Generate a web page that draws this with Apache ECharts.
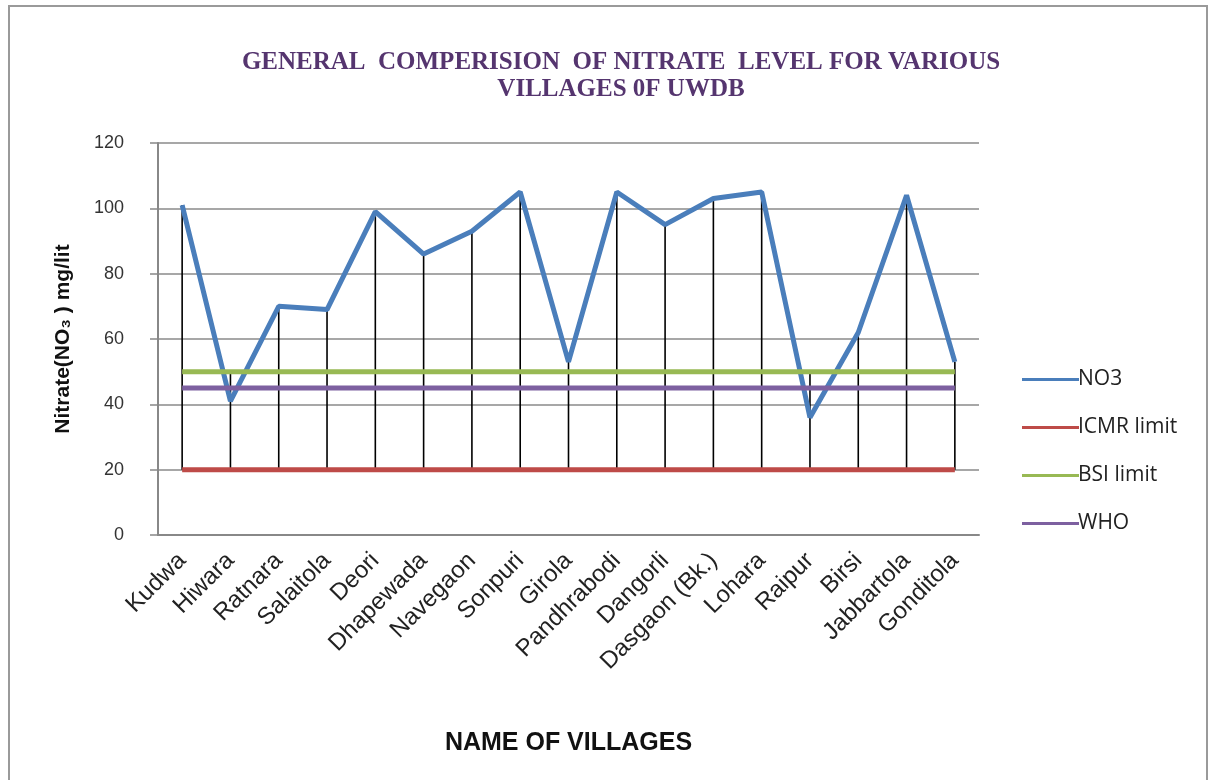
<!DOCTYPE html>
<html>
<head>
<meta charset="utf-8">
<script src="https://cdn.jsdelivr.net/npm/echarts@6/dist/echarts.min.js"></script>
<style>
html, body { margin: 0; padding: 0; background: #fff; }
#chart { width: 1212px; height: 780px; }
</style>
</head>
<body>
<div id="chart"></div>
<script>
// villages on the x axis
var villages = ['Kudwa', 'Hiwara', 'Ratnara', 'Salaitola', 'Deori', 'Dhapewada', 'Navegaon', 'Sonpuri',
    'Girola', 'Pandhrabodi', 'Dangorli', 'Dasgaon (Bk.)', 'Lohara', 'Raipur', 'Birsi', 'Jabbartola', 'Gonditola'];
// nitrate readings, mg/lit
var no3 = [101, 41, 70, 69, 99, 86, 93, 105, 53, 105, 95, 103, 105, 36, 62, 104, 53];
// limits
var icmr = [20, 20, 20, 20, 20, 20, 20, 20, 20, 20, 20, 20, 20, 20, 20, 20, 20];
var bsi = [50, 50, 50, 50, 50, 50, 50, 50, 50, 50, 50, 50, 50, 50, 50, 50, 50];
var who = [45, 45, 45, 45, 45, 45, 45, 45, 45, 45, 45, 45, 45, 45, 45, 45, 45];
var yTicks = [0, 20, 40, 60, 80, 100, 120];

// high-low lines like excel: from highest to lowest value in each category
var hiLo = villages.map(function (v, i) {
    var all = [no3[i], icmr[i], bsi[i], who[i]];
    return [i, Math.min.apply(null, all), Math.max.apply(null, all)];
});

var chart = echarts.init(document.getElementById('chart'));

function lineSeries(name, data, color) {
    return {
        type: 'line',
        name: name,
        data: data,
        symbol: 'none',
        lineStyle: { color: color, width: 5 },
        itemStyle: { color: color },
        z: 3
    };
}

var legendIcon = 'path://M0,0 L57,0 L57,3 L0,3 Z';

chart.setOption({
    animation: false,
    title: {
        text: 'GENERAL  COMPERISION  OF NITRATE  LEVEL FOR VARIOUS\nVILLAGES 0F UWDB',
        left: 616,
        top: 44,
        textAlign: 'center',
        textStyle: {
            fontFamily: 'Liberation Serif',
            fontWeight: 'bold',
            fontSize: 25,
            lineHeight: 27,
            color: '#55356f'
        }
    },
    graphic: [{
        type: 'polyline',
        shape: { points: [[9, 790], [9, 6], [1207, 6], [1207, 790]] },
        style: { stroke: '#9a9a9a', lineWidth: 2, fill: null }
    }],
    legend: {
        orient: 'vertical',
        left: 1017,
        top: 364,
        itemGap: 27,
        itemWidth: 57,
        itemHeight: 19,
        data: [
            { name: 'NO3', icon: legendIcon },
            { name: 'ICMR limit', icon: legendIcon },
            { name: 'BSI limit', icon: legendIcon },
            { name: 'WHO', icon: legendIcon }
        ],
        textStyle: { fontFamily: 'Open Sans', fontSize: 21, color: '#222', padding: [0, 0, 0, -6] }
    },
    grid: {
        left: 158,
        right: 233,
        top: 143,
        bottom: 245,
        containLabel: false
    },
    xAxis: {
        type: 'category',
        data: villages,
        boundaryGap: true,
        axisLine: { lineStyle: { color: '#888', width: 2 } },
        axisTick: { show: false },
        axisLabel: {
            rotate: 45,
            interval: 0,
            margin: 22,
            fontFamily: 'Liberation Sans',
            fontSize: 24,
            color: '#222'
        },
        name: 'NAME OF VILLAGES',
        nameLocation: 'middle',
        nameGap: 196,
        nameTextStyle: {
            fontFamily: 'Liberation Sans',
            fontWeight: 'bold',
            fontSize: 25,
            color: '#111'
        }
    },
    yAxis: {
        type: 'value',
        min: yTicks[0],
        max: yTicks[yTicks.length - 1],
        interval: 20,
        axisLine: { show: true, lineStyle: { color: '#888', width: 2 } },
        axisTick: { show: true, length: 8, lineStyle: { color: '#888', width: 1.5 } },
        splitLine: { lineStyle: { color: '#8a8a8a', width: 1.5 } },
        axisLabel: {
            margin: 34,
            fontFamily: 'Liberation Sans',
            fontSize: 18,
            color: '#333'
        },
        name: 'Nitrate(NO₃ ) mg/lit',
        nameLocation: 'middle',
        nameGap: 84,
        nameRotate: 90,
        nameTextStyle: {
            fontFamily: 'Liberation Sans',
            fontWeight: 'bold',
            fontSize: 21,
            color: '#111'
        }
    },
    series: [
        {
            type: 'custom',
            name: 'hilo',
            data: hiLo,
            silent: true,
            z: 2,
            renderItem: function (params, api) {
                var lo = api.coord([api.value(0), api.value(1)]);
                var hi = api.coord([api.value(0), api.value(2)]);
                return {
                    type: 'line',
                    shape: { x1: lo[0], y1: lo[1], x2: hi[0], y2: hi[1] },
                    style: { stroke: '#000', lineWidth: 1.6 }
                };
            },
            encode: { x: 0, y: [1, 2] }
        },
        lineSeries('NO3', no3, '#4a7ebb'),
        lineSeries('ICMR limit', icmr, '#be4b48'),
        lineSeries('BSI limit', bsi, '#98b954'),
        lineSeries('WHO', who, '#7d60a0')
    ]
});
</script>
</body>
</html>
